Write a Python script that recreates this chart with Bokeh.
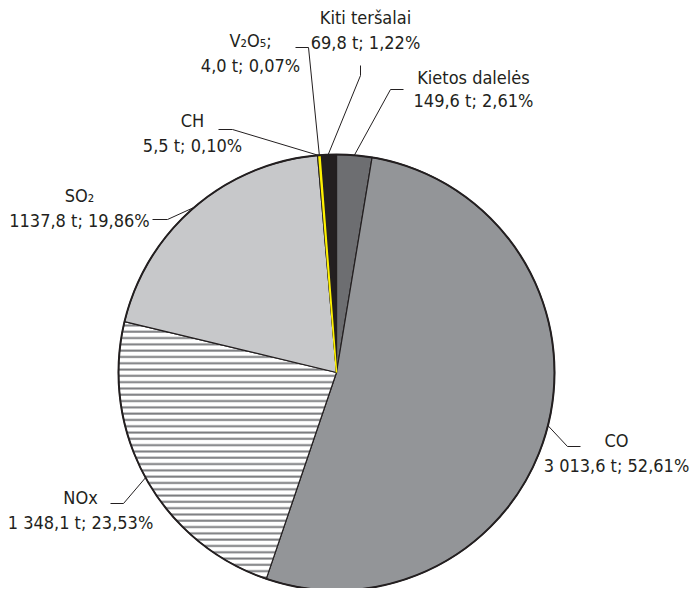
import math
from bokeh.plotting import figure
from bokeh.models import Range1d, ColumnDataSource
from bokeh.core.properties import value
from bokeh.embed import file_html
from bokeh.resources import INLINE

# ---- data (clockwise from 12 o'clock) ----
names = ["Kietos dalelės", "CO", "NOx", "SO₂", "CH", "V₂O₅;", "Kiti teršalai"]
tonnes = [149.6, 3013.6, 1348.1, 1137.8, 5.5, 4.0, 69.8]
tonne_labels = ["149,6", "3 013,6", "1 348,1", "1137,8", "5,5", "4,0", "69,8"]
percent_labels = ["2,61", "52,61", "23,53", "19,86", "0,10", "0,07", "1,22"]

# ---- styles / layout ----
colors = ["#6d6e71", "#939598", "#ffffff", "#c7c8ca", "#ffffff", "#fff200", "#231f20"]
hatches = [" ", " ", "-", " ", " ", " ", " "]
W, H = 692, 588
IMG_H = 590
FONT = value("DejaVu Sans Condensed")
TXT = "#231f20"

def Y(img_y):
    return IMG_H - img_y

cx, cy, r = 336, Y(372), 218

# label block centres (x, line1 y, line2 y) in image coords
label_pos = [(473, 77, 100), (616, 440, 465), (80, 497, 522), (79, 195, 220),
             (192, 120, 145), (250, 40, 65), (365, 17, 42)]
# leader: end point near text, elbow point
leader_pts = [((403, 89), (390, 89)), ((580, 446), (567, 446)), ((110, 503), (123, 503)),
              ((152, 219), (167, 219)), ((218, 129), (232, 129)), ((295, 47), (308, 47)),
              ((360, 65), (360, 75))]

total = sum(tonnes)
starts, ends, mids = [], [], []
acc = 0.0
for t in tonnes:
    f0 = acc / total
    acc += t
    f1 = acc / total
    starts.append(math.pi / 2 - 2 * math.pi * f0)
    ends.append(math.pi / 2 - 2 * math.pi * f1)
    mids.append(math.pi / 2 - 2 * math.pi * (f0 + f1) / 2)

p = figure(width=W, height=H, x_range=Range1d(0, W), y_range=Range1d(IMG_H - H, IMG_H),
           output_backend="svg", toolbar_location=None, x_axis_type=None, y_axis_type=None,
           min_border=0)
p.outline_line_color = None
p.grid.visible = False
p.background_fill_color = "white"
p.border_fill_color = "white"

src = ColumnDataSource(dict(x=[cx] * len(tonnes), y=[cy] * len(tonnes), start=starts, end=ends,
                            color=colors, hatch=hatches))
p.wedge(x="x", y="y", radius=r, start_angle="start", end_angle="end", direction="clock",
        fill_color="color", line_color="#231f20", line_width=1.2, source=src,
        hatch_pattern="hatch", hatch_color="#7a7b7e", hatch_scale=6.3, hatch_weight=2.0)

# thin yellow slice redrawn so it stays visible
iv = names.index("V₂O₅;")
p.wedge(x=[cx], y=[cy], radius=r, start_angle=[starts[iv]], end_angle=[ends[iv]], direction="clock",
        fill_color=colors[iv], line_color=colors[iv], line_width=1.6)

# outer rim
p.circle(x=[cx], y=[cy], radius=r, fill_color=None, line_color="#231f20", line_width=2)

# leaders
xs, ys = [], []
for (end, elbow), a in zip(leader_pts, mids):
    ax, ay = cx + r * math.cos(a), cy + r * math.sin(a)
    xs.append([end[0], elbow[0], ax])
    ys.append([Y(end[1]), Y(elbow[1]), ay])
p.multi_line(xs=xs, ys=ys, line_color="#231f20", line_width=1)

# labels
l1x, l1y, l1t, l2y, l2t = [], [], [], [], []
for n, tl, pl, (lx, y1, y2) in zip(names, tonne_labels, percent_labels, label_pos):
    l1x.append(lx)
    l1y.append(Y(y1))
    l1t.append(n)
    l2y.append(Y(y2))
    l2t.append(f"{tl} t; {pl}%")
for yy, tt in ((l1y, l1t), (l2y, l2t)):
    p.text(x=l1x, y=yy, text=tt, text_font=FONT, text_font_size="18px", text_align="center",
           text_baseline="middle", text_color=TXT)

open("out.html", "w").write(file_html(p, INLINE))
